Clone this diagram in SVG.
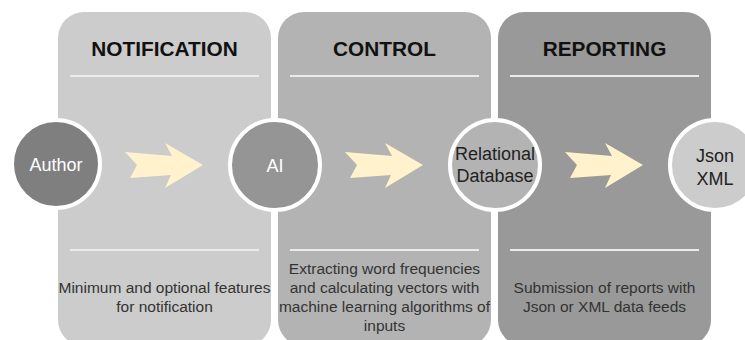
<svg xmlns="http://www.w3.org/2000/svg" width="745" height="340" viewBox="0 0 745 340">
<defs>
<style>
.panel{stroke:none}
.sep{stroke:#ebebeb;stroke-width:2}
.title{font-family:"Liberation Sans",Arial,sans-serif;font-weight:bold;font-size:20.8px;fill:#111;text-anchor:middle}
.desc{font-family:"Liberation Sans",Arial,sans-serif;font-size:15.5px;fill:#333;text-anchor:middle}
.node{stroke:#fff;stroke-width:4}
.lbl{font-family:"Liberation Sans",Arial,sans-serif;font-size:18px;text-anchor:middle}
.arrow{fill:#fff2cc}
</style>
</defs>
<rect width="745" height="340" fill="#fff"/>
<g id="panel-notification">
<rect class="panel" x="58" y="12" width="213" height="334" rx="26" fill="#cccccc"/>
<line class="sep" x1="70" y1="76" x2="259" y2="76"/>
<line class="sep" x1="70" y1="250" x2="259" y2="250"/>
<text class="title" x="164.5" y="56">NOTIFICATION</text>
<text class="desc" x="164.5" y="293">Minimum and optional features</text>
<text class="desc" x="164.5" y="312">for notification</text>
</g>
<g id="panel-control">
<rect class="panel" x="278" y="12" width="213" height="334" rx="26" fill="#b3b3b3"/>
<line class="sep" x1="290" y1="76" x2="479" y2="76"/>
<line class="sep" x1="290" y1="250" x2="479" y2="250"/>
<text class="title" x="384.5" y="56">CONTROL</text>
<text class="desc" x="384.5" y="274">Extracting word frequencies</text>
<text class="desc" x="384.5" y="293">and calculating vectors with</text>
<text class="desc" x="384.5" y="312">machine learning algorithms of</text>
<text class="desc" x="384.5" y="331">inputs</text>
</g>
<g id="panel-reporting">
<rect class="panel" x="498" y="12" width="213" height="334" rx="26" fill="#999999"/>
<line class="sep" x1="510" y1="76" x2="699" y2="76"/>
<line class="sep" x1="510" y1="250" x2="699" y2="250"/>
<text class="title" x="604.5" y="56">REPORTING</text>
<text class="desc" x="604.5" y="293">Submission of reports with</text>
<text class="desc" x="604.5" y="312">Json or XML data feeds</text>
</g>
<g id="connectors">
<polygon class="arrow" points="125,152 172,156 165,143 203,165 165,188 171,175 130,178 137,165"/>
<polygon class="arrow" points="345,152 392,156 385,143 423,165 385,188 391,175 350,178 357,165"/>
<polygon class="arrow" points="565,152 612,156 605,143 643,165 605,188 611,175 570,178 577,165"/>
</g>
<g id="node-author">
<circle class="node" cx="56" cy="164" r="44" fill="#7f7f7f"/>
<text class="lbl" x="56" y="171" fill="#fff">Author</text>
</g>
<g id="node-ai">
<circle class="node" cx="275" cy="165" r="45" fill="#959595"/>
<text class="lbl" x="275" y="172" fill="#fff">AI</text>
</g>
<g id="node-db">
<circle class="node" cx="495" cy="165" r="45" fill="#b3b3b3"/>
<text class="lbl" x="495" y="160" fill="#222">Relational</text>
<text class="lbl" x="495" y="182" fill="#222">Database</text>
</g>
<g id="node-json">
<circle class="node" cx="715" cy="165" r="45" fill="#cccccc"/>
<text class="lbl" x="715" y="162" fill="#222">Json</text>
<text class="lbl" x="715" y="185" fill="#222">XML</text>
</g>
</svg>
